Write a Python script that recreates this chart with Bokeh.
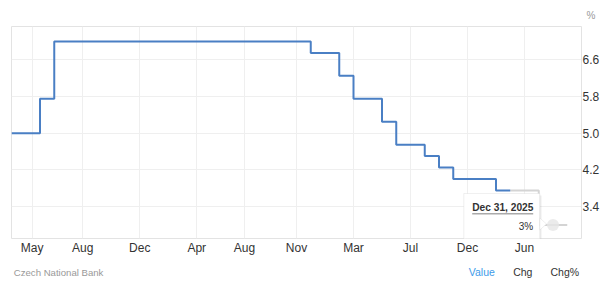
from bokeh.plotting import figure
from bokeh.layouts import column
from bokeh.models import Range1d, FixedTicker, NumeralTickFormatter, Label, BoxAnnotation, PolyAnnotation
from bokeh.core.properties import value
from bokeh.embed import file_html
from bokeh.resources import INLINE

# Ordinal period index (one slot per observation on the source's ordinal axis)
step_x = [0, 2, 3, 21, 23, 24, 26, 27, 29, 30, 31, 34, 35]
step_rate = [5.0, 5.75, 7.0, 6.75, 6.25, 5.75, 5.25, 4.75, 4.5, 4.25, 4.0, 3.75, 3.75]
forecast_x = [35, 37, 39]
forecast_rate = [3.75, 3.0, 3.0]
hover_x = [38]
hover_rate = [3.0]
hover_label = "Dec 31, 2025"
hover_value = "3%"

x_tick_pos = [1.45, 5, 9, 13, 16.35, 20, 24, 28, 32, 36]
x_tick_labels = ["May", "Aug", "Dec", "Apr", "Aug", "Nov", "Mar", "Jul", "Dec", "Jun"]
y_ticks = [3.4, 4.2, 5.0, 5.8, 6.6]

footer_texts = ["Czech National Bank", "Value", "Chg", "Chg%"]

FONT = "Liberation Sans"

p = figure(frame_width=570, frame_height=212,
           x_range=Range1d(0, 40), y_range=Range1d(2.704, 7.326),
           y_axis_location="right", output_backend="svg", toolbar_location=None,
           min_border_left=11, min_border_top=26, min_border_right=24, min_border_bottom=20,
           background_fill_color="white", border_fill_color="white")
p.outline_line_color = "#e3e3e3"

p.title.text = "%"
p.title.align = "right"
p.title.text_font = FONT
p.title.text_font_size = "10px"
p.title.text_font_style = "normal"
p.title.text_color = "#999999"
p.title.offset = -14
p.title.standoff = 12

p.xaxis.ticker = FixedTicker(ticks=x_tick_pos)
p.xaxis.major_label_overrides = {t: l for t, l in zip(x_tick_pos, x_tick_labels)}
p.yaxis.ticker = FixedTicker(ticks=y_ticks)
p.yaxis.formatter = NumeralTickFormatter(format="0.0")
for ax in (p.xaxis[0], p.yaxis[0]):
    ax.axis_line_color = None
    ax.major_tick_line_color = None
    ax.minor_tick_line_color = None
    ax.major_tick_in = 0
    ax.major_tick_out = 0
    ax.minor_tick_in = 0
    ax.minor_tick_out = 0
    ax.major_label_text_font = FONT
    ax.major_label_text_font_size = "12px"
    ax.major_label_text_color = "#333333"
p.xaxis.major_label_standoff = 2
p.yaxis.major_label_standoff = 1
p.xgrid.ticker = FixedTicker(ticks=x_tick_pos)
p.ygrid.ticker = FixedTicker(ticks=y_ticks)
p.grid.grid_line_color = "#efefef"

p.step(forecast_x, forecast_rate, mode="after", line_color="#d4d4d4", line_width=2)
p.step(step_x, step_rate, mode="after", line_color="#4a7fc4", line_width=2)

# tooltip
p.add_layout(BoxAnnotation(left=454, right=530, bottom=-3, top=43,
                           left_units="screen", right_units="screen",
                           top_units="screen", bottom_units="screen",
                           fill_color="#000000", fill_alpha=0.07, line_color=None))
p.add_layout(BoxAnnotation(left=452.3, right=528.3, bottom=-1, top=45,
                           left_units="screen", right_units="screen",
                           top_units="screen", bottom_units="screen",
                           fill_color="white", fill_alpha=1.0, line_color="#cccccc", line_width=1))
p.add_layout(PolyAnnotation(xs=[528.3, 535, 528.3], ys=[20.5, 14.5, 8.5], xs_units="screen", ys_units="screen",
                            fill_color="white", fill_alpha=1.0, line_color="#cccccc", line_width=1))
p.scatter(hover_x, hover_rate, size=12, fill_color="#e6e6e6", fill_alpha=0.8, line_color=None)
p.add_layout(Label(x=460.7, y=31.3, x_units="screen", y_units="screen", text=hover_label,
                   text_font=FONT, text_font_size="10.2px", text_font_style="bold",
                   text_color="#333333", text_baseline="middle"))
p.add_layout(BoxAnnotation(left=460.7, right=521.7, bottom=24, top=25.5,
                           left_units="screen", right_units="screen",
                           top_units="screen", bottom_units="screen",
                           fill_color="#aaaaaa", fill_alpha=1.0, line_color=None))
p.add_layout(Label(x=521.7, y=12.3, x_units="screen", y_units="screen", text=hover_value,
                   text_font=FONT, text_font_size="10px", text_color="#333333",
                   text_align="right", text_baseline="middle"))

# footer strip (its frame is aligned with the main frame: canvas x 11..581)
f = figure(width=605, height=24, x_range=Range1d(11, 581), y_range=Range1d(0, 24),
           output_backend="svg", toolbar_location=None,
           min_border_left=11, min_border_right=24, min_border_top=0, min_border_bottom=0,
           background_fill_color="white", border_fill_color="white")
f.axis.visible = False
f.grid.visible = False
f.outline_line_color = None
f.text(x=[13.3], y=[10.3], text=[footer_texts[0]], text_font=value(FONT), text_font_size="9.6px",
       text_color="#999999", text_baseline="middle")
f.text(x=[468.3, 512.7, 550], y=[10.3, 10.3, 10.3], text=footer_texts[1:], text_font=value(FONT),
       text_font_size="10.5px", text_color=["#3d9be9", "#333333", "#333333"], text_baseline="middle")

layout = column(p, f, spacing=0)
open("out.html", "w").write(file_html(layout, INLINE))
